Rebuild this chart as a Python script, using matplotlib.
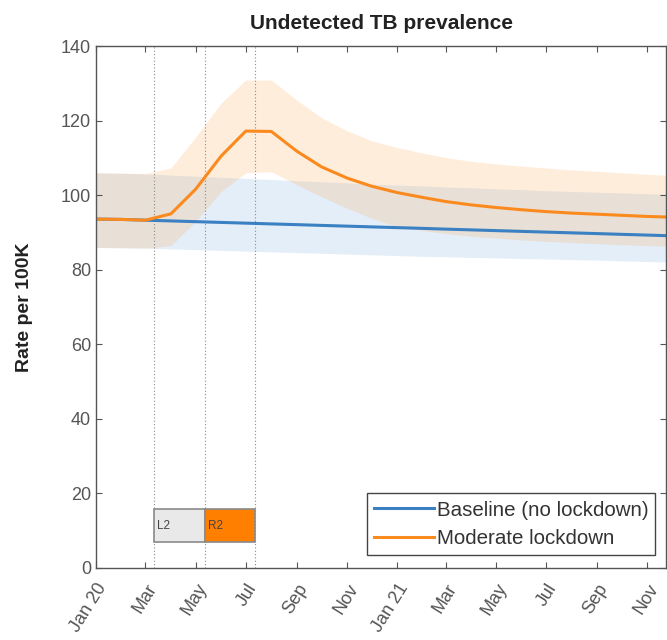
import matplotlib
matplotlib.use("Agg")
import matplotlib.pyplot as plt
import matplotlib.dates as mdates
from matplotlib.patches import Rectangle
import numpy as np
import pandas as pd

plt.rcParams['font.family'] = ['Liberation Sans', 'DejaVu Sans']

months = pd.date_range('2020-01-01', periods=24, freq='MS')

baseline = [93.6, 93.5, 93.3, 93.1, 92.9, 92.7, 92.5, 92.3, 92.1, 91.9, 91.7, 91.5,
            91.3, 91.1, 90.9, 90.7, 90.5, 90.3, 90.1, 89.9, 89.7, 89.5, 89.3, 89.1]
baseline_hi = [106.0, 105.9, 105.7, 105.4, 105.1, 104.8, 104.5, 104.2, 103.9, 103.6, 103.3, 103.0,
               102.7, 102.5, 102.2, 102.0, 101.7, 101.5, 101.2, 101.0, 100.8, 100.6, 100.4, 100.2]
baseline_lo = [86.0, 85.9, 85.8, 85.6, 85.4, 85.2, 85.0, 84.8, 84.6, 84.4, 84.2, 84.0,
               83.8, 83.6, 83.5, 83.3, 83.2, 83.0, 82.9, 82.7, 82.6, 82.4, 82.2, 82.0]

moderate = [93.6, 93.5, 93.3, 95.0, 101.6, 110.5, 117.2, 117.1, 111.8, 107.6, 104.6, 102.4,
            100.7, 99.4, 98.3, 97.4, 96.7, 96.1, 95.6, 95.2, 94.9, 94.6, 94.3, 94.1]
moderate_hi = [106.0, 105.9, 105.8, 107.3, 115.6, 124.7, 130.9, 130.9, 125.5, 120.8, 117.3, 114.6,
               112.8, 111.3, 110.1, 109.1, 108.4, 107.8, 107.3, 106.8, 106.4, 106.0, 105.6, 105.3]
moderate_lo = [86.0, 85.9, 85.8, 86.5, 93.0, 101.0, 106.0, 106.3, 102.8, 99.6, 96.5, 93.8,
               91.5, 90.5, 89.7, 89.0, 88.5, 88.0, 87.6, 87.3, 87.0, 86.7, 86.5, 86.3]

phase_dates = ['2020-03-12', '2020-05-13', '2020-07-12']
phase_labels = ['L2', 'R2']
phase_colors = ['#e9e9e9', '#ff7f00']
box_y = (7.0, 15.8)

tick_dates = pd.date_range('2020-01-01', '2021-11-01', freq='2MS')
tick_labels = ['Jan 20', 'Mar', 'May', 'Jul', 'Sep', 'Nov', 'Jan 21', 'Mar', 'May', 'Jul', 'Sep', 'Nov']

blue = '#3a80c2'
orange = '#fb8a1e'

fig = plt.figure(figsize=(6.67, 6.40), dpi=100)
ax = fig.add_axes([0.144, 0.1125, 0.855, 0.8155])

ax.fill_between(months, baseline_lo, baseline_hi, color='#4a90d0', alpha=0.15, linewidth=0)
ax.fill_between(months, moderate_lo, moderate_hi, color='#ff8c1a', alpha=0.15, linewidth=0)
ax.plot(months, baseline, color=blue, lw=2.2, label='Baseline (no lockdown)')
ax.plot(months, moderate, color=orange, lw=2.2, label='Moderate lockdown')

pd_dates = pd.to_datetime(phase_dates)
for d in pd_dates:
    ax.axvline(d, color='#8a8a8a', ls=(0, (1, 2)), lw=0.8, zorder=1)

for i, lab in enumerate(phase_labels):
    x0 = mdates.date2num(pd_dates[i])
    x1 = mdates.date2num(pd_dates[i + 1])
    ax.add_patch(Rectangle((x0, box_y[0]), x1 - x0, box_y[1] - box_y[0],
                           facecolor=phase_colors[i], edgecolor='#8a8a8a', lw=1.2, zorder=3))
    ax.text(x0 + 3, (box_y[0] + box_y[1]) / 2, lab, fontsize=8.5, color='#444444',
            va='center', ha='left', zorder=4)

ax.set_xlim(mdates.date2num(pd.Timestamp('2020-01-01')),
            mdates.date2num(pd.Timestamp('2020-01-01')) + 693)
ax.set_ylim(0, 140)
ax.set_yticks(np.arange(0, 141, 20))
ax.set_xticks(tick_dates)
ax.set_xticklabels(tick_labels, rotation=58, ha='right', va='top', rotation_mode='anchor')

ax.tick_params(direction='in', length=4, width=0.8, colors='#555555', labelsize=13,
               top=True, right=True, labelcolor='#555555')
ax.tick_params(axis='x', pad=9)
for s in ax.spines.values():
    s.set_color('#555555')
    s.set_linewidth(1.0)

ax.set_title('Undetected TB prevalence', fontsize=15, fontweight='bold', color='#222222', pad=12)
ax.set_ylabel('Rate per 100K', fontsize=14, fontweight='bold', color='#222222', labelpad=20)

leg = ax.legend(loc='lower right', bbox_to_anchor=(0.981, 0.025), borderaxespad=0,
                fontsize=14.8, frameon=True, fancybox=False, edgecolor='#444444',
                framealpha=1, handlelength=2.9, handletextpad=0.15, borderpad=0.35,
                labelspacing=0.45, labelcolor='#333333')
leg.get_frame().set_linewidth(1.0)

fig.savefig('out.png', dpi=100)
